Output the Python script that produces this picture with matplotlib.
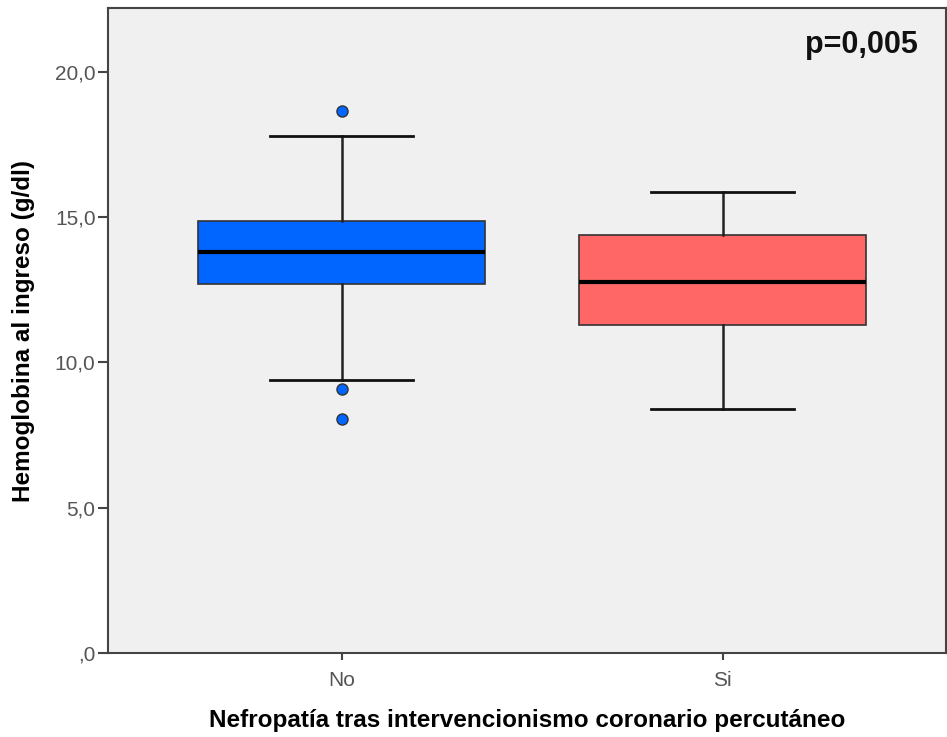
import matplotlib.pyplot as plt
from matplotlib.ticker import FuncFormatter

plt.rcParams['font.family'] = ['Liberation Sans', 'DejaVu Sans']

# grupos y estadisticos de hemoglobina (g/dl)
groups = ["No", "Si"]
q1 = [12.69, 11.29]
medians = [13.79, 12.78]
q3 = [14.88, 14.37]
whisker_low = [9.38, 8.39]
whisker_high = [17.78, 15.87]
outliers = [[18.67, 9.08, 8.07], []]
colors = ["#0066ff", "#ff6666"]

stats = []
for i, g in enumerate(groups):
    stats.append({
        "label": g,
        "q1": q1[i],
        "med": medians[i],
        "q3": q3[i],
        "whislo": whisker_low[i],
        "whishi": whisker_high[i],
        "fliers": outliers[i],
    })

fig = plt.figure(figsize=(9.47, 7.37), dpi=100)
ax = fig.add_axes([108 / 947, 84 / 737, 838 / 947, 645 / 737])
ax.set_facecolor("#f0f0f0")

bp = ax.bxp(stats, positions=[1, 2], widths=0.752, patch_artist=True,
            boxprops=dict(edgecolor="#333333", linewidth=1.2),
            medianprops=dict(color="black", linewidth=3),
            whiskerprops=dict(color="#222222", linewidth=1.8),
            capprops=dict(color="#111111", linewidth=2),
            flierprops=dict(marker="o", markersize=8, markerfacecolor=colors[0],
                            markeredgecolor="#333333", markeredgewidth=1))
for patch, c in zip(bp["boxes"], colors):
    patch.set_facecolor(c)

ax.set_xlim(0.387, 2.586)
ax.set_ylim(0, 22.2)
ax.set_yticks([0, 5, 10, 15, 20])
ax.yaxis.set_major_formatter(FuncFormatter(
    lambda v, p: ",0" if v == 0 else ("%.1f" % v).replace(".", ",")))
ax.set_xticks([1, 2])
ax.set_xticklabels(groups)

for side in ["left", "bottom", "top", "right"]:
    ax.spines[side].set_color("#444444")
    ax.spines[side].set_linewidth(1.5)
ax.tick_params(axis="y", colors="#444444", labelcolor="#555555", labelsize=15,
               length=7, width=1.5, pad=2)
ax.tick_params(axis="x", colors="#444444", labelcolor="#555555", labelsize=15,
               length=5, width=1.5, pad=8)

ax.set_xlabel("Nefropatía tras intervencionismo coronario percutáneo",
              fontsize=17.5, fontweight="bold", labelpad=14)
ax.set_ylabel("Hemoglobina al ingreso (g/dl)", fontsize=17.5, fontweight="bold",
              labelpad=14)

ax.text(918, 737 - 45, "p=0,005", transform=None, ha="right", va="center",
        fontsize=22, fontweight="bold", color="#111111")

fig.savefig("out.png", dpi=100)
